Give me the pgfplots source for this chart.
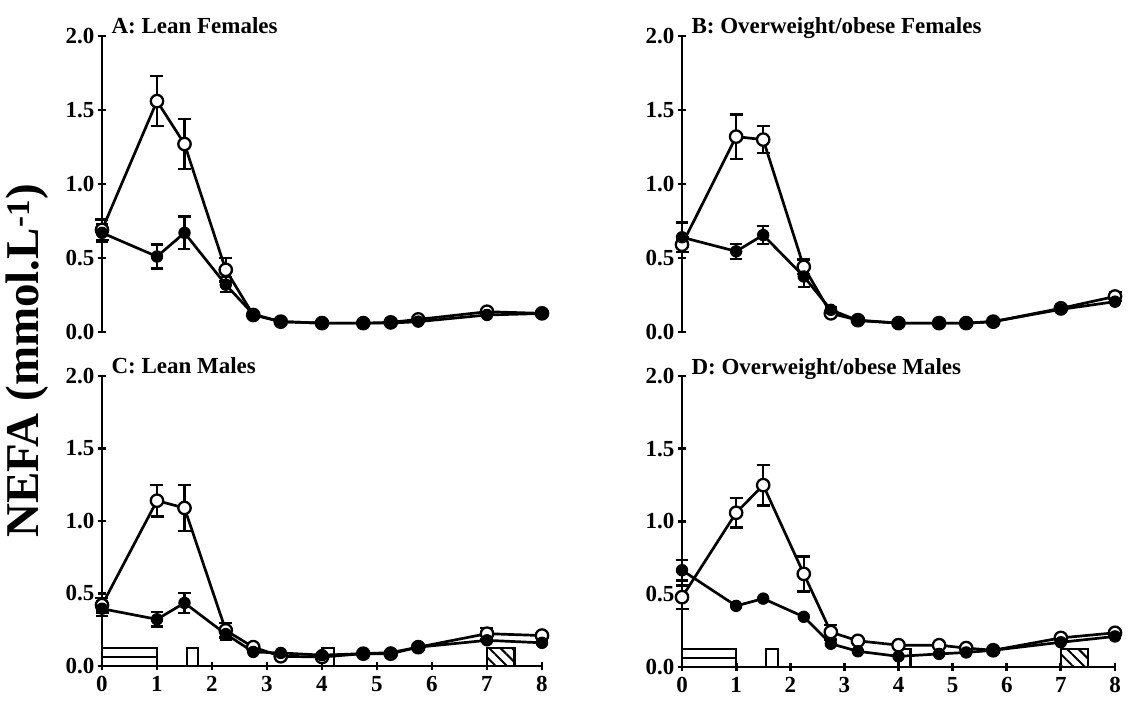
\documentclass[border=0pt]{standalone}
\usepackage{fontspec}
\setmainfont{Liberation Serif}
\usepackage{pgfplots}
\pgfplotsset{compat=1.18}
\usetikzlibrary{patterns.meta}

\pgfplotsset{
  nefa/.style={
    scale only axis, xmin=0, xmax=8, ymin=0, ymax=2, clip=false,
    ytick={0,0.5,1,1.5,2},
    tick align=outside, major tick length=8pt,
    tick label style={font=\fontsize{23}{23}\selectfont\bfseries},
    /pgf/number format/assume math mode=true,
    yticklabel style={/pgf/number format/.cd, fixed, fixed zerofill, precision=1},
    xticklabel style={yshift=-3pt},
    title style={font=\fontsize{23}{23}\selectfont\bfseries, anchor=base west, at={(0,1)}, xshift=6pt, yshift=-4pt},
  },
  fin/.style={
    axis line style={-, line width=2.8pt, black},
    tick style={line width=2.8pt, black},
    major tick style={line width=2.8pt, black},
  },
  toprow/.style={nefa, axis y line=left, axis x line=none, height=296pt, fin},
  botrow/.style={nefa, axis y line=left, axis x line=bottom, height=290pt, xtick={0,1,2,3,4,5,6,7,8}, fin},
  openser/.style={line width=2.7pt, black, mark=*, mark size=6.2pt, mark options={fill=white, draw=black, line width=2.3pt},
    error bars/.cd, y dir=both, y explicit, error mark=-,
    error bar style={line width=2.4pt, black},
    error mark options={rotate=90, line width=2.4pt, black, mark size=6.5pt}},
  fillser/.style={line width=2.7pt, black, mark=*, mark size=5.7pt, mark options={fill=black, draw=black, line width=1pt},
    error bars/.cd, y dir=both, y explicit, error mark=-,
    error bar style={line width=2.4pt, black},
    error mark options={rotate=90, line width=2.4pt, black, mark size=6pt}},
  box/.style={draw=black, line width=2.2pt, fill=white, mark=none},
}

\begin{document}
\begin{tikzpicture}[x=1pt,y=1pt]
\useasboundingbox (0,0) rectangle (1130,702);

\node[rotate=90, font=\fontsize{47}{47}\selectfont\bfseries] at (27,341) {NEFA (mmol.L\textsuperscript{-1})};

% ---------------- A
\begin{axis}[toprow, width=440pt, at={(102pt,370pt)}, anchor=south west, title={A: Lean Females}]
\addplot[openser] coordinates {(0,0.69)+-(0,0.07) (1,1.56)+-(0,0.17) (1.5,1.27)+-(0,0.17) (2.25,0.42)+-(0,0.08) (2.75,0.115) (3.25,0.07) (4,0.06) (4.75,0.06) (5.25,0.065) (5.75,0.085) (7,0.137) (8,0.126)};
\addplot[fillser] coordinates {(0,0.67)+-(0,0.06) (1,0.51)+-(0,0.08) (1.5,0.67)+-(0,0.11) (2.25,0.32)+-(0,0.05) (2.75,0.12) (3.25,0.07) (4,0.06) (4.75,0.06) (5.25,0.06) (5.75,0.07) (7,0.115) (8,0.125)};
\end{axis}

% ---------------- B
\begin{axis}[toprow, width=433pt, at={(682pt,370pt)}, anchor=south west, title={B: Overweight/obese Females}]
\addplot[openser] coordinates {(0,0.59)+-(0,0.05) (1,1.32)+-(0,0.15) (1.5,1.30)+-(0,0.09) (2.25,0.44)+-(0,0.05) (2.75,0.126) (3.25,0.08) (4,0.06) (4.75,0.06) (5.25,0.06) (5.75,0.07) (7,0.16) (8,0.24)+-(0,0.03)};
\addplot[fillser] coordinates {(0,0.64)+-(0,0.10) (1,0.545)+-(0,0.05) (1.5,0.655)+-(0,0.06) (2.25,0.375)+-(0,0.07) (2.75,0.15)+-(0,0.02) (3.25,0.077) (4,0.06) (4.75,0.06) (5.25,0.06) (5.75,0.07) (7,0.153) (8,0.205)};
\end{axis}

% ---------------- C
\begin{axis}[botrow, width=440pt, at={(102pt,36pt)}, anchor=south west, title={C: Lean Males}]
\addplot[box] coordinates {(0,0.125) (1,0.125)} \closedcycle;
\addplot[box] coordinates {(0,0.06) (1,0.06)};
\addplot[box] coordinates {(1.54,0.125) (1.75,0.125)} \closedcycle;
\addplot[box] coordinates {(4.0,0.125) (4.22,0.125)} \closedcycle;
\addplot[box, pattern={Lines[angle=-45, distance=8pt, line width=2pt]}] coordinates {(7,0.125) (7.5,0.125)} \closedcycle;
\addplot[openser] coordinates {(0,0.42)+-(0,0.05) (1,1.14)+-(0,0.11) (1.5,1.09)+-(0,0.16) (2.25,0.246)+-(0,0.05) (2.75,0.13) (3.25,0.067) (4,0.062) (4.75,0.085) (5.25,0.085) (5.75,0.13) (7,0.223)+-(0,0.04) (8,0.21)};
\addplot[fillser] coordinates {(0,0.395)+-(0,0.05) (1,0.322)+-(0,0.05) (1.5,0.435)+-(0,0.07) (2.25,0.22)+-(0,0.04) (2.75,0.097) (3.25,0.09) (4,0.075) (4.75,0.085) (5.25,0.092) (5.75,0.13) (7,0.177) (8,0.16)};
\end{axis}

% ---------------- D
\begin{axis}[botrow, width=433pt, at={(682pt,35pt)}, anchor=south west, height=291pt, title={D: Overweight/obese Males}]
\addplot[box] coordinates {(0,0.125) (1,0.125)} \closedcycle;
\addplot[box] coordinates {(0,0.06) (1,0.06)};
\addplot[box] coordinates {(1.55,0.125) (1.77,0.125)} \closedcycle;
\addplot[box] coordinates {(4.0,0.125) (4.22,0.125)} \closedcycle;
\addplot[box, pattern={Lines[angle=-45, distance=8pt, line width=2pt]}] coordinates {(7,0.125) (7.5,0.125)} \closedcycle;
\addplot[openser] coordinates {(0,0.48)+-(0,0.08) (1,1.06)+-(0,0.10) (1.5,1.25)+-(0,0.14) (2.25,0.64)+-(0,0.12) (2.75,0.24)+-(0,0.05) (3.25,0.18) (4,0.15) (4.75,0.15) (5.25,0.13) (5.75,0.115) (7,0.20) (8,0.235)};
\addplot[fillser] coordinates {(0,0.665)+-(0,0.07) (1,0.42) (1.5,0.47) (2.25,0.345) (2.75,0.16) (3.25,0.108) (4,0.073) (4.75,0.09) (5.25,0.10) (5.75,0.115) (7,0.17) (8,0.21)};
\end{axis}
\end{tikzpicture}
\end{document}
